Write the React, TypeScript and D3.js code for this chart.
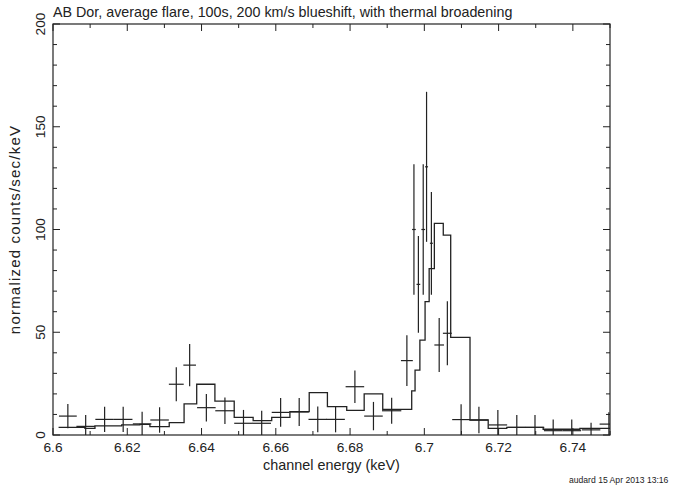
import React from "react";
import * as d3 from "d3";

const W = 677;
const H = 488;

const title = "AB Dor, average flare, 100s, 200 km/s blueshift, with thermal broadening";
const xLabel = "channel energy (keV)";
const yLabel = "normalized counts/sec/keV";
const stamp = "audard 15  Apr  2013 13:16";

const xDomain = [6.6, 6.75];
const yDomain = [0, 200];
const xTickLabels = [6.6, 6.62, 6.64, 6.66, 6.68, 6.7, 6.72, 6.74];
const yTickLabels = [0, 50, 100, 150, 200];

// data crosses
const dataE = [6.6040, 6.6088, 6.6139, 6.6189, 6.6240, 6.6287, 6.6332, 6.6368, 6.6413, 6.6463, 6.6513, 6.6562,
  6.6613, 6.6663, 6.6713, 6.6761, 6.6813, 6.6863, 6.6912, 6.6953, 6.6972, 6.6984, 6.6997, 6.7006, 6.7019,
  6.7040, 6.7062, 6.7099, 6.7147, 6.7198, 6.7249, 6.7298, 6.7347, 6.7397, 6.7449, 6.7497];
const dataHalfW = [0.0024, 0.0025, 0.0025, 0.0025, 0.0025, 0.0025, 0.0020, 0.0017, 0.0025, 0.0026, 0.0025, 0.0025,
  0.0024, 0.0026, 0.0025, 0.0025, 0.0025, 0.0025, 0.0026, 0.0016, 0.0005, 0.0005, 0.0005, 0.0004, 0.0004,
  0.0013, 0.0012, 0.0024, 0.0025, 0.0025, 0.0025, 0.0025, 0.0025, 0.0025, 0.0025, 0.0025];
const dataVal = [9.2, 4.2, 7.6, 7.6, 5.4, 7.3, 24.7, 34, 13.3, 11.8, 5.7, 5.7,
  11, 11.2, 7.6, 7.6, 23.5, 9.2, 11.8, 36.2, 100, 73.3, 100, 130.5, 93.3,
  43.8, 49.5, 7.5, 7.3, 4.9, 3.7, 3.7, 2.1, 2.1, 2.5, 5.3];
const dataErr = [5.9, 5.5, 6.2, 6.2, 5.9, 6.2, 8.3, 10.3, 6.7, 6.5, 6.5, 6.1,
  7, 6.8, 6.3, 6.3, 7.9, 6.9, 6.3, 12.4, 31.8, 23.5, 31.8, 36.5, 25,
  13.1, 15.6, 7.5, 6.5, 7.3, 6, 6, 5.5, 5.5, 3.5, 5.8];

// model step histogram
const modelEdges = [6.6015, 6.6086, 6.6113, 6.6185, 6.6234, 6.6261, 6.6313, 6.6353, 6.6387, 6.6436, 6.6488,
  6.6539, 6.6589, 6.6638, 6.6690, 6.6739, 6.6791, 6.6838, 6.6888, 6.6966, 6.6975, 6.6988, 6.7002, 6.7013,
  6.7027, 6.7051, 6.7071, 6.7123, 6.7172, 6.7222, 6.7320, 6.7419, 6.7500];
const modelVal = [3.7, 3.2, 4.4, 4.9, 5.2, 4.1, 6.0, 15.1, 24.7, 16.5, 8.6, 7.0, 8.6, 11.4, 20.6, 13.8, 12.0,
  20.0, 12.5, 21.5, 31.6, 46.2, 64.9, 81, 103, 97.3, 47.5, 7.3, 3.2, 3.7, 2.8, 3.2];

const L = 53, R = 610, T = 24, B = 435;
const ink = "#222";
const font = "'Liberation Sans', Arial, Helvetica, sans-serif";

export default function App() {
  const x = d3.scaleLinear().domain(xDomain).range([L, R]);
  const y = d3.scaleLinear().domain(yDomain).range([B, T]);

  const pts: [number, number][] = modelVal.map((v, i) => [modelEdges[i], v]);
  pts.push([modelEdges[modelEdges.length - 1], modelVal[modelVal.length - 1]]);
  const line = d3.line<[number, number]>().x((d) => x(d[0])).y((d) => y(d[1])).curve(d3.curveStepAfter);

  const xMinor = d3.range(0, 16).map((i) => 6.6 + i * 0.01);
  const yMinor = d3.range(0, 21).map((i) => i * 10);

  return (
    <svg width={W} height={H} style={{ position: "absolute", left: 0, top: 0, background: "#fff" }}>
      <defs>
        <clipPath id="plot">
          <rect x={L} y={T} width={R - L} height={B - T} />
        </clipPath>
      </defs>
      <rect x={0} y={0} width={W} height={H} fill="#fff" />
      <text x={L} y={17} fontSize={14.3} fontFamily={font} fill={ink}>{title}</text>

      <g stroke={ink} strokeWidth={1}>
        {xMinor.map((v, i) => {
          const len = i % 2 === 0 ? 7 : 4;
          const px = x(v);
          return (
            <g key={"xt" + i}>
              <line x1={px} x2={px} y1={B} y2={B - len} />
              <line x1={px} x2={px} y1={T} y2={T + len} />
            </g>
          );
        })}
        {yMinor.map((v, i) => {
          const len = i % 5 === 0 ? 7 : 4;
          const py = y(v);
          return (
            <g key={"yt" + i}>
              <line x1={L} x2={L + len} y1={py} y2={py} />
              <line x1={R} x2={R - len} y1={py} y2={py} />
            </g>
          );
        })}
      </g>

      <g clipPath="url(#plot)">
        <path d={line(pts) || ""} fill="none" stroke={ink} strokeWidth={1.3} />
        {dataE.map((e, i) => (
          <g key={"d" + i} stroke={ink} strokeWidth={1.2}>
            <line x1={x(e - dataHalfW[i])} x2={x(e + dataHalfW[i])} y1={y(dataVal[i])} y2={y(dataVal[i])} />
            <line x1={x(e)} x2={x(e)} y1={y(dataVal[i] - dataErr[i])} y2={y(dataVal[i] + dataErr[i])} />
          </g>
        ))}
      </g>

      <rect x={L} y={T} width={R - L} height={B - T} fill="none" stroke={ink} strokeWidth={1.2} />

      {xTickLabels.map((v) => (
        <text key={"xl" + v} x={x(v)} y={452} textAnchor="middle" fontSize={13.7} fontFamily={font} fill={ink}>
          {String(v)}
        </text>
      ))}
      {yTickLabels.map((v) => (
        <text key={"yl" + v} transform={`translate(45,${y(v)}) rotate(-90)`} textAnchor="middle" fontSize={13.7}
          fontFamily={font} fill={ink}>
          {String(v)}
        </text>
      ))}
      <text x={(L + R) / 2} y={470} textAnchor="middle" fontSize={14.4} fontFamily={font} fill={ink}>{xLabel}</text>
      <text transform={`translate(20,${(T + B) / 2}) rotate(-90)`} textAnchor="middle" fontSize={15}
        letterSpacing={1.2} fontFamily={font} fill={ink}>{yLabel}</text>
      <text x={569} y={483} fontSize={8.6} fontFamily={font} fill={ink}>{stamp}</text>
    </svg>
  );
}
